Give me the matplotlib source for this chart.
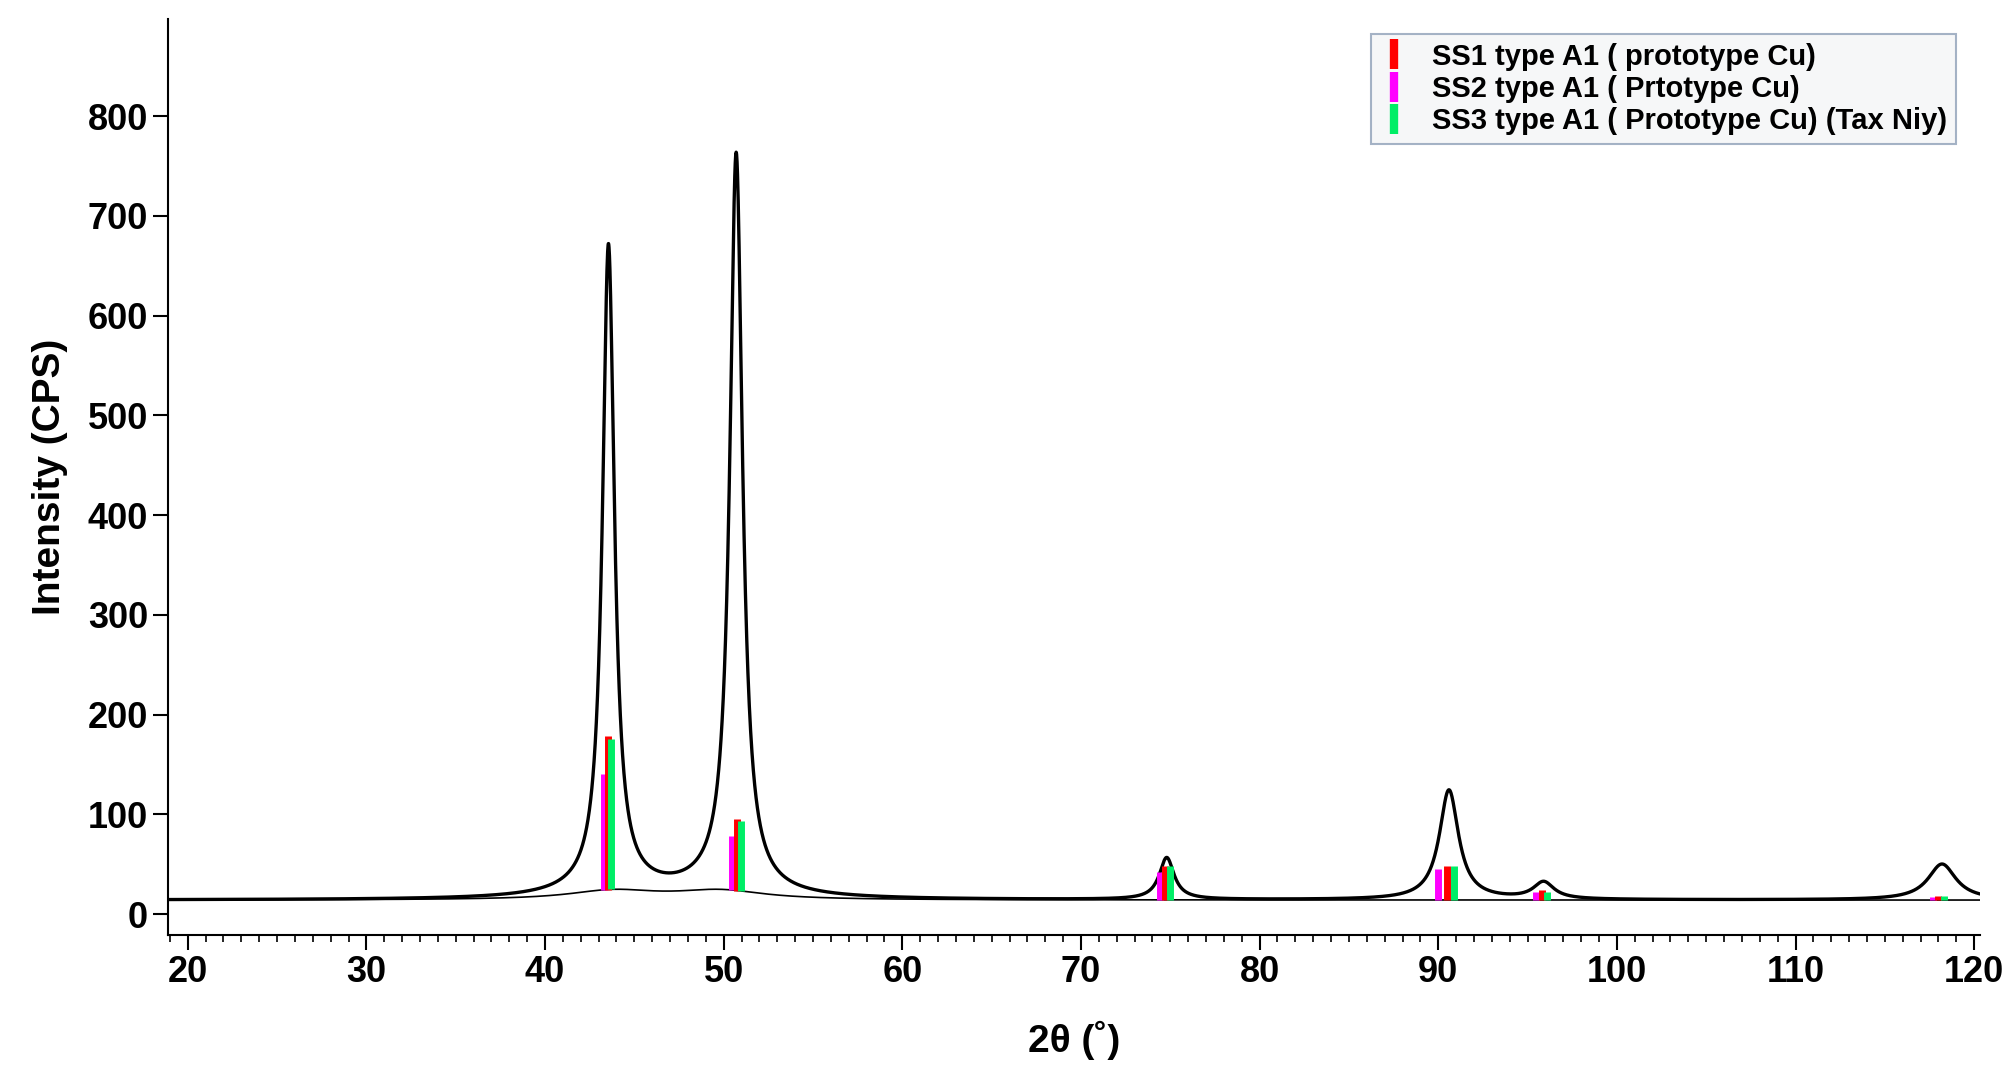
import numpy as np
import matplotlib
matplotlib.use("Agg")
import matplotlib.pyplot as plt
from matplotlib.lines import Line2D
from matplotlib.ticker import MultipleLocator

plt.rcParams['font.family'] = ['Liberation Sans', 'DejaVu Sans']

# peak parameters: position, net height, FWHM
peak_pos = [43.55, 50.7, 74.8, 90.6, 95.9, 118.2]
peak_h = [645, 738, 42, 110, 17, 36]
peak_w = [0.8, 0.85, 1.0, 1.3, 1.4, 1.9]
# amorphous background humps
bg_level = 14
hump_pos = [43.8, 49.8]
hump_h = [9, 9]
hump_w = [6.0, 6.0]

# reference sticks: (position, top)
ss1_x = [43.5, 50.75, 74.7, 90.5, 95.8, 118.0]
ss1_y = [178, 95, 48, 48, 24, 18]
ss2_x = [43.3, 50.45, 74.4, 90.0, 95.5, 117.7]
ss2_y = [140, 78, 42, 45, 22, 17]
ss3_x = [43.7, 50.95, 75.0, 90.9, 96.1, 118.3]
ss3_y = [175, 93, 48, 48, 22, 18]

def background(x):
    b = np.full_like(x, bg_level, dtype=float)
    for p, h, w in zip(hump_pos, hump_h, hump_w):
        b += h / (1 + ((x - p) / (w / 2)) ** 2)
    return b

x = np.linspace(19, 120.3, 8000)
y = background(x)
for p, h, w in zip(peak_pos, peak_h, peak_w):
    y += h / (1 + ((x - p) / (w / 2)) ** 2)

fig = plt.figure(figsize=(20.06, 10.71), dpi=100)
ax = fig.add_axes([0.0838, 0.127, 0.903, 0.855])
ax.plot(x, y, color='black', lw=2.4)
ax.plot(x, background(x), color='black', lw=1.2)

for xs, ys, c in [(ss2_x, ss2_y, '#ff00ff'), (ss1_x, ss1_y, '#ff0000'), (ss3_x, ss3_y, '#00ee66')]:
    xs = np.array(xs)
    ax.vlines(xs, background(xs), ys, colors=c, lw=5)

ax.set_xlim(18.9, 120.3)
ax.set_ylim(-21, 897)
ax.xaxis.set_major_locator(MultipleLocator(10))
ax.xaxis.set_minor_locator(MultipleLocator(1))
ax.set_yticks(range(0, 900, 100))
for s in ['top', 'right']:
    ax.spines[s].set_visible(False)
for s in ['left', 'bottom']:
    ax.spines[s].set_linewidth(1.5)
ax.tick_params(axis='both', which='major', labelsize=26, width=1.5, length=11)
ax.tick_params(axis='x', which='minor', width=1.2, length=5)
for xm in range(25, 121, 10):
    ax.plot([xm, xm], [0, 1], transform=ax.get_xaxis_transform(), alpha=0)
for lab in ax.get_xticklabels() + ax.get_yticklabels():
    lab.set_fontweight('bold')
ax.set_xlabel('2θ (˚)', fontsize=28, fontweight='bold', labelpad=22)
ax.set_ylabel('Intensity (CPS)', fontsize=28, fontweight='bold', labelpad=14)

handles = [Line2D([], [], color=c, lw=0, marker='|', markersize=22, markeredgewidth=6)
           for c in ['#ff0000', '#ff00ff', '#00ee66']]
labels = ['SS1 type A1 ( prototype Cu)', 'SS2 type A1 ( Prtotype Cu)',
          'SS3 type A1 ( Prototype Cu) (Tax Niy)']
leg = ax.legend(handles, labels, loc='upper right', bbox_to_anchor=(0.995, 1.0),
                prop={'weight': 'bold', 'size': 21}, frameon=True, fancybox=False,
                handlelength=1.0, handletextpad=0.8, labelspacing=0.15, borderpad=0.3)
leg.get_frame().set_facecolor('#f4f5f7')
leg.get_frame().set_edgecolor('#8fa0b8')
leg.get_frame().set_linewidth(1.5)

fig.savefig('out.png', dpi=100)
